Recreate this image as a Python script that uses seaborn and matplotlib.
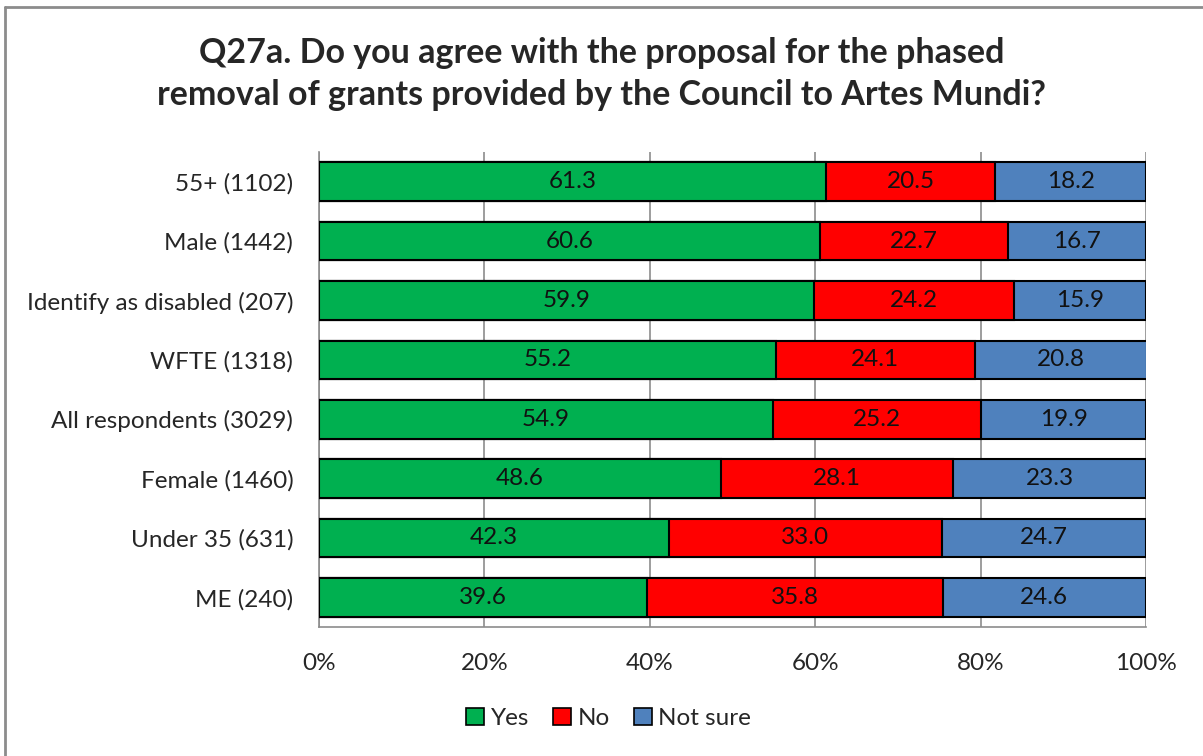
import numpy as np
import pandas as pd
import matplotlib
matplotlib.use('Agg')
import matplotlib.pyplot as plt
import seaborn as sns
from matplotlib.patches import Patch
from matplotlib.lines import Line2D

sns.set_style('white')
plt.rcParams['font.family'] = ['Lato', 'DejaVu Sans']

# data
groups = ['55+ (1102)', 'Male (1442)', 'Identify as disabled (207)', 'WFTE (1318)',
          'All respondents (3029)', 'Female (1460)', 'Under 35 (631)', 'ME (240)']
yes = [61.3, 60.6, 59.9, 55.2, 54.9, 48.6, 42.3, 39.6]
no = [20.5, 22.7, 24.2, 24.1, 25.2, 28.1, 33.0, 35.8]
not_sure = [18.2, 16.7, 15.9, 20.8, 19.9, 23.3, 24.7, 24.6]

series = ['Yes', 'No', 'Not sure']
colours = ['#00B050', '#FF0000', '#4F81BD']

df = pd.DataFrame({'group': groups, 'Yes': yes, 'No': no, 'Not sure': not_sure})
df['c_yes'] = df['Yes']
df['c_no'] = df['Yes'] + df['No']
df['c_ns'] = df['c_no'] + df['Not sure']

fs = 17.5

fig = plt.figure(figsize=(12.03, 7.56), dpi=100)
ax = fig.add_axes([0.2652, 0.1706, 0.6874, 0.6283])

# stacked bars: draw cumulative totals back to front
for col, colour in zip(['c_ns', 'c_no', 'c_yes'], colours[::-1]):
    sns.barplot(data=df, x=col, y='group', orient='h', color=colour, width=0.65,
                edgecolor='black', linewidth=1.5, saturation=1, ax=ax, zorder=3)

# segment labels
for i, row in df.iterrows():
    left = 0
    for s in series:
        val = row[s]
        ax.text(left + val / 2, i, f'{val:.1f}', ha='center', va='center',
                fontsize=fs, color='#111111', zorder=4)
        left += val

ax.set_xlim(0, 100)
ax.set_ylim(len(groups) - 0.5, -0.5)
ax.set_xticks(np.arange(0, 101, 20))
ax.set_xticklabels([f'{t}%' for t in range(0, 101, 20)])
ax.xaxis.grid(True, color='#8C8C8C', linewidth=1.2, zorder=0)
ax.set_axisbelow(True)
ax.set_xlabel('')
ax.set_ylabel('')
ax.tick_params(axis='x', length=0, pad=19, labelsize=fs)
ax.tick_params(axis='y', length=0, pad=18.5, labelsize=fs)
for side in ['top', 'right']:
    ax.spines[side].set_visible(False)
for side in ['left', 'bottom']:
    ax.spines[side].set_color('#8C8C8C')
    ax.spines[side].set_linewidth(1.2)

fig.text(0.5, 0.902, 'Q27a. Do you agree with the proposal for the phased\n'
         'removal of grants provided by the Council to Artes Mundi?',
         ha='center', va='center', fontsize=24.5, fontweight='bold',
         linespacing=1.36)

handles = [Patch(facecolor=c, edgecolor='black', linewidth=1.2) for c in colours]
fig.legend(handles, series, loc='center', bbox_to_anchor=(0.506, 0.05), ncol=3,
           frameon=False, fontsize=fs, handlelength=0.75, handleheight=0.75,
           handletextpad=0.25, columnspacing=1.0)

# chart border
fig.add_artist(Line2D([4.5 / 1203, 4.5 / 1203], [0, 1 - 6.5 / 756],
                      transform=fig.transFigure, color='#8C8C8C', linewidth=2))
fig.add_artist(Line2D([4.5 / 1203, 1], [1 - 6.5 / 756, 1 - 6.5 / 756],
                      transform=fig.transFigure, color='#8C8C8C', linewidth=2))

fig.savefig('out.png', dpi=100)
